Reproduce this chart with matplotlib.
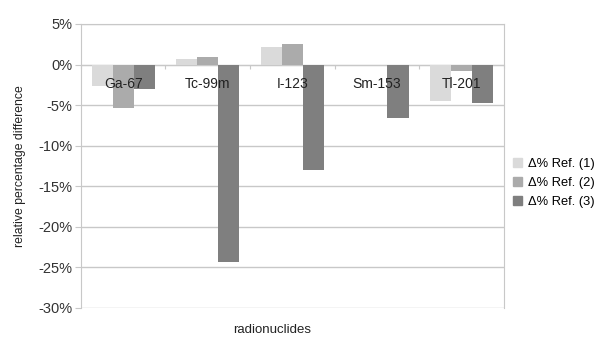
import numpy as np
import matplotlib
matplotlib.use("Agg")
from matplotlib import pyplot as plt
from matplotlib.patches import Patch

plt.rcParams['font.family'] = ['Liberation Sans', 'DejaVu Sans']

nuclides = ["Ga-67", "Tc-99m", "I-123", "Sm-153", "Tl-201"]
ref1 = [-2.6, 0.65, 2.2, 0.0, -4.5]
ref2 = [-5.3, 0.9, 2.5, 0.0, -0.8]
ref3 = [-3.0, -24.3, -13.0, -6.6, -4.8]
series_names = ["Δ% Ref. (1)", "Δ% Ref. (2)", "Δ% Ref. (3)"]
colors = ["#dadada", "#ababab", "#7f7f7f"]
yticks = [5, 0, -5, -10, -15, -20, -25, -30]

fig = plt.figure(figsize=(6.04, 3.38), dpi=100)
ax = fig.add_axes([0.134, 0.089, 0.700, 0.840])

x = np.arange(len(nuclides))
w = 0.25
for k, vals in enumerate([ref1, ref2, ref3]):
    ax.bar(x + (k - 1) * w, vals, width=w, color=colors[k], zorder=3)

ax.set_xlim(-0.5, len(nuclides) - 0.5)
ax.set_ylim(-30, 5)
ax.set_yticks(yticks)
ax.set_yticklabels([f"{t}%" for t in yticks], fontsize=10.5, color="#333333")
ax.yaxis.grid(True, color="#c8c8c8", linewidth=1, zorder=0)
ax.tick_params(axis='y', length=4, color="#c8c8c8", pad=2)

ax.spines['bottom'].set_position(('data', 0))
for s in ax.spines.values():
    s.set_color("#c8c8c8")
ax.set_xticks(np.arange(len(nuclides) + 1) - 0.5)
ax.set_xticklabels([])
ax.tick_params(axis='x', length=3, color="#c8c8c8", direction='out')

for i, name in enumerate(nuclides):
    ax.annotate(name, (i, 0), xytext=(0, -9), textcoords='offset points',
                ha='center', va='top', fontsize=10, color="#222222", zorder=5)

ax.set_ylabel("relative percentage difference", fontsize=8.8, color="#222222")
ax.yaxis.set_label_coords(-0.13, 0.5)
fig.text(0.45, 0.005, "radionuclides", ha='center', va='bottom', fontsize=9.5, color="#222222")

handles = [Patch(color=c) for c in colors]
ax.legend(handles, series_names, loc='center left', bbox_to_anchor=(0.995, 0.44),
          frameon=False, fontsize=9.3, handlelength=0.7, handleheight=0.7,
          handletextpad=0.45, labelspacing=0.55)

fig.savefig("out.png", dpi=100)
